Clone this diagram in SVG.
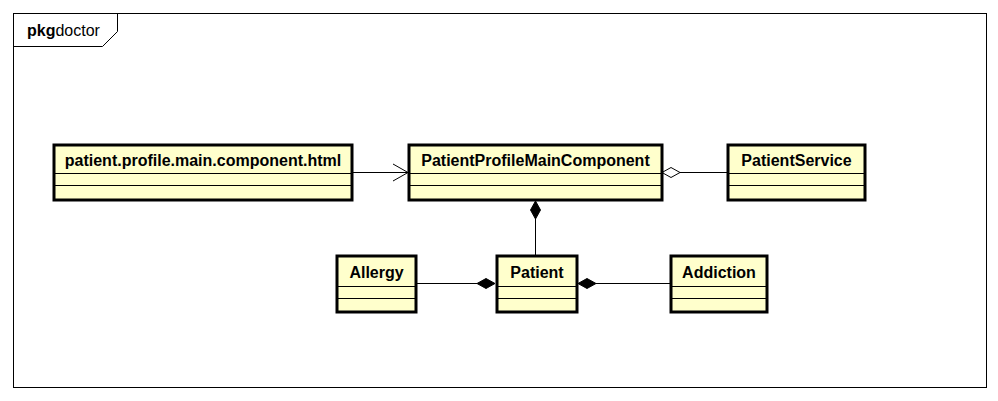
<svg xmlns="http://www.w3.org/2000/svg" width="998" height="401" viewBox="0 0 998 401">
<style>
.box{fill:#FFFFCC;stroke:#000;stroke-width:3}
.sep{stroke:#000;stroke-width:1;fill:none}
.t{font-family:"Liberation Sans",Arial,sans-serif;font-size:16px;font-weight:bold;text-anchor:middle;fill:#000}
.ln{stroke:#000;stroke-width:1;fill:none}
</style>
<rect width="998" height="401" fill="#fff"/>
<g id="frame">
<rect x="13.5" y="13.5" width="973" height="374" fill="none" stroke="#000" stroke-width="1"/>
<path d="M13.5 46.5 H102.5 L117.5 31.5 V13.5" fill="none" stroke="#000" stroke-width="1"/>
<text x="27" y="36" font-family="Liberation Sans,Arial,sans-serif" font-size="16px"><tspan font-weight="bold">pkg</tspan>doctor</text>
</g>
<g id="connectors">
<line class="ln" x1="352" y1="172.5" x2="408" y2="172.5"/>
<path class="ln" d="M393 164 L408 172.5 L393 181"/>
<path d="M662 172.5 L671 167.5 L680 172.5 L671 177.5 Z" fill="#fff" stroke="#000" stroke-width="1"/>
<line class="ln" x1="680" y1="172.5" x2="727" y2="172.5"/>
<path d="M535.5 201 L530.5 210 L535.5 219 L540.5 210 Z" fill="#000" stroke="#000" stroke-width="1"/>
<line class="ln" x1="535.5" y1="219" x2="535.5" y2="255"/>
<line class="ln" x1="417" y1="283.5" x2="477" y2="283.5"/>
<path d="M495 283.5 L486 278.5 L477 283.5 L486 288.5 Z" fill="#000" stroke="#000" stroke-width="1"/>
<path d="M578 283.5 L587 278.5 L596 283.5 L587 288.5 Z" fill="#000" stroke="#000" stroke-width="1"/>
<line class="ln" x1="596" y1="283.5" x2="670" y2="283.5"/>
</g>
<g id="html">
<rect class="box" x="54" y="145" width="298" height="55"/>
<line class="sep" x1="54" y1="173.5" x2="352" y2="173.5"/>
<line class="sep" x1="54" y1="185.5" x2="352" y2="185.5"/>
<text class="t" x="203" y="166">patient.profile.main.component.html</text>
</g>
<g id="ppmc">
<rect class="box" x="409" y="145" width="253" height="55"/>
<line class="sep" x1="409" y1="173.5" x2="662" y2="173.5"/>
<line class="sep" x1="409" y1="185.5" x2="662" y2="185.5"/>
<text class="t" x="535.5" y="166">PatientProfileMainComponent</text>
</g>
<g id="service">
<rect class="box" x="728" y="145" width="137" height="55"/>
<line class="sep" x1="728" y1="173.5" x2="865" y2="173.5"/>
<line class="sep" x1="728" y1="185.5" x2="865" y2="185.5"/>
<text class="t" x="796.5" y="166">PatientService</text>
</g>
<g id="allergy">
<rect class="box" x="337" y="256" width="79" height="56"/>
<line class="sep" x1="337" y1="286.5" x2="416" y2="286.5"/>
<line class="sep" x1="337" y1="298.5" x2="416" y2="298.5"/>
<text class="t" x="376.5" y="278">Allergy</text>
</g>
<g id="patient">
<rect class="box" x="497" y="256" width="80" height="56"/>
<line class="sep" x1="497" y1="286.5" x2="577" y2="286.5"/>
<line class="sep" x1="497" y1="298.5" x2="577" y2="298.5"/>
<text class="t" x="537" y="278">Patient</text>
</g>
<g id="addiction">
<rect class="box" x="671" y="256" width="96" height="56"/>
<line class="sep" x1="671" y1="286.5" x2="767" y2="286.5"/>
<line class="sep" x1="671" y1="298.5" x2="767" y2="298.5"/>
<text class="t" x="719" y="278">Addiction</text>
</g>
</svg>
